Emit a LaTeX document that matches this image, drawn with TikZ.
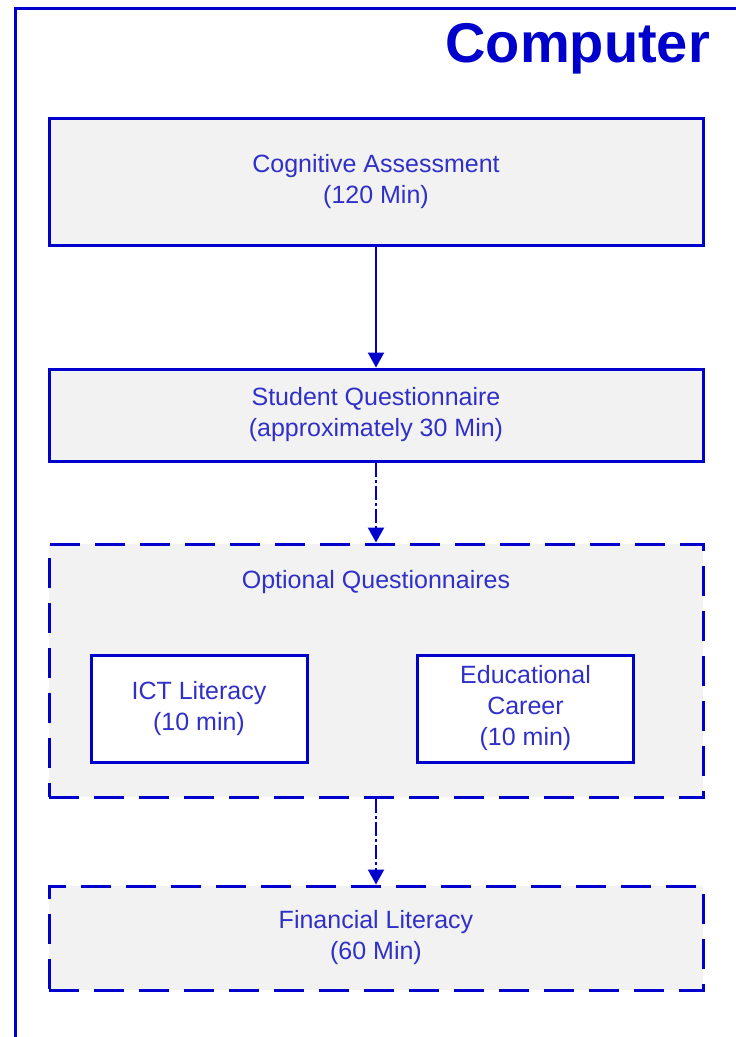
\documentclass[tikz,border=0pt]{standalone}
\usepackage{fontspec}
\setmainfont{Liberation Sans}
\usetikzlibrary{arrows.meta}
\definecolor{lineblue}{RGB}{0,0,204}
\definecolor{textblue}{RGB}{48,48,200}
\definecolor{boxgray}{RGB}{242,242,242}
\tikzset{
  stagebox/.style={draw=lineblue, line width=3pt, fill=boxgray, text=textblue,
    align=center, font=\fontsize{25}{31}\selectfont, minimum width=654pt, inner sep=0pt},
  optbox/.style={stagebox, dash pattern=on 30pt off 15pt},
  subbox/.style={stagebox, fill=white, minimum width=216pt, minimum height=107pt},
  flow/.style={draw=lineblue, line width=2pt, -{Triangle[width=16pt,length=15pt]}},
  optflow/.style={flow, dash pattern=on 14pt off 3pt on 3pt off 3pt}
}
\begin{document}
\begin{tikzpicture}[x=1pt,y=-1pt]
\useasboundingbox (0,0) rectangle (736,1037);
\draw [lineblue, line width=3pt] (15,1050) -- (15,8) -- (750,8);
\node [anchor=base east, inner sep=0pt, text=lineblue, font=\fontsize{56}{60}\selectfont\bfseries] (title) at (710,62) {Computer};
\node [stagebox, minimum height=127pt] (cognitive) at (376,181.5) {Cognitive Assessment\\(120 Min)};
\node [stagebox, minimum height=92pt] (student) at (376,415) {Student Questionnaire\\(approximately 30 Min)};
\node [optbox, minimum height=253pt] (optional) at (376,670.5) {};
\node [text=textblue, font=\fontsize{25}{31}\selectfont] (optlabel) at (376,582) {Optional Questionnaires};
\node [subbox] (ict) at (199,708.5) {ICT Literacy\\(10 min)};
\node [subbox] (career) at (525.5,708.5) {Educational\\Career\\(10 min)};
\node [optbox, minimum height=104pt] (financial) at (376,938) {Financial Literacy\\(60 Min)};
\draw [flow] (cognitive) -- (student);
\draw [optflow] (student) -- (optional);
\draw [optflow] (optional) -- (financial);
\end{tikzpicture}
\end{document}
